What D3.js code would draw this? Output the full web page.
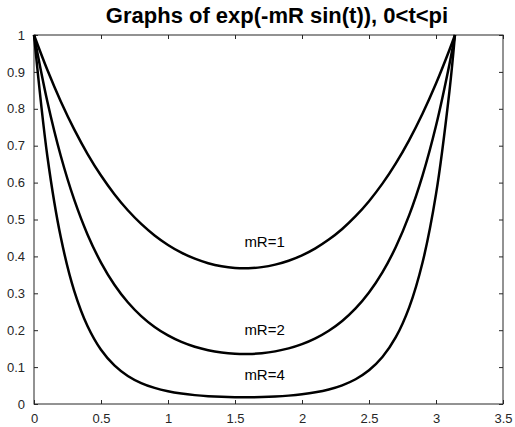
<!DOCTYPE html>
<html>
<head>
<meta charset="utf-8">
<script src="https://cdn.jsdelivr.net/npm/d3@7"></script>
<style>
  body { margin: 0; background: #fff; }
  svg { display: block; font-family: "Liberation Sans", Arial, sans-serif; }
</style>
</head>
<body>
<svg id="chart"></svg>
<script>
// sample points in t (0 .. pi)
const tValues = [0, 0.1, 0.2, 0.3, 0.4, 0.5, 0.6, 0.7, 0.8, 0.9, 1.0, 1.1, 1.2, 1.3, 1.4, 1.5,
  1.6, 1.7, 1.8, 1.9, 2.0, 2.1, 2.2, 2.3, 2.4, 2.5, 2.6, 2.7, 2.8, 2.9, 3.0, 3.1, 3.14159];

const mR1 = [1, 0.90499, 0.81982, 0.74414, 0.67745, 0.61913, 0.56856, 0.52507, 0.48804, 0.45688,
  0.43108, 0.41016, 0.39375, 0.38153, 0.37327, 0.36880, 0.36804, 0.37096, 0.37763, 0.38817,
  0.40281, 0.42181, 0.44553, 0.47440, 0.50892, 0.54965, 0.59720, 0.65222, 0.71535, 0.78722,
  0.86838, 0.95927, 1];
const mR2 = [1, 0.81903, 0.67207, 0.55374, 0.45894, 0.38332, 0.32326, 0.27570, 0.23818, 0.20874,
  0.18583, 0.16823, 0.15504, 0.14557, 0.13933, 0.13601, 0.13545, 0.13761, 0.14260, 0.15068,
  0.16226, 0.17792, 0.19850, 0.22506, 0.25900, 0.30212, 0.35665, 0.42539, 0.51173, 0.61972,
  0.75409, 0.92020, 1];
const mR4 = [1, 0.67081, 0.45168, 0.30663, 0.21063, 0.14693, 0.10450, 0.07601, 0.05673, 0.04357,
  0.03453, 0.02830, 0.02404, 0.02119, 0.01941, 0.01850, 0.01835, 0.01894, 0.02033, 0.02270,
  0.02633, 0.03166, 0.03940, 0.05065, 0.06708, 0.09128, 0.12720, 0.18096, 0.26187, 0.38405,
  0.56865, 0.84677, 1];

const labels = [
  { text: 'mR=1', t: 1.57, v: 0.44 },
  { text: 'mR=2', t: 1.57, v: 0.20 },
  { text: 'mR=4', t: 1.57, v: 0.078 }
];

const xTicks = [0, 0.5, 1, 1.5, 2, 2.5, 3, 3.5];
const yTicks = [0, 0.1, 0.2, 0.3, 0.4, 0.5, 0.6, 0.7, 0.8, 0.9, 1];

const width = 515, height = 427;
const margin = { top: 35, right: 12, bottom: 23, left: 34 };
const innerWidth = width - margin.left - margin.right;
const innerHeight = height - margin.top - margin.bottom;

const svg = d3.select('#chart')
  .attr('width', width)
  .attr('height', height);

const g = svg.append('g')
  .attr('transform', `translate(${margin.left},${margin.top})`);

const x = d3.scaleLinear().domain([0, 3.5]).range([0, innerWidth]);
const y = d3.scaleLinear().domain([0, 1]).range([innerHeight, 0]);

// axes box
g.append('rect')
  .attr('width', innerWidth)
  .attr('height', innerHeight)
  .attr('fill', 'none')
  .attr('stroke', '#262626')
  .attr('stroke-width', 1);

const tickLen = 4;

// bottom axis
g.append('g')
  .attr('transform', `translate(0,${innerHeight})`)
  .call(d3.axisBottom(x).tickValues(xTicks).tickSizeInner(-tickLen).tickSizeOuter(0).tickPadding(10)
    .tickFormat(d3.format('')))
  .attr('font-size', 13)
  .attr('font-family', '"Liberation Sans", Arial, sans-serif');
// top ticks
g.append('g')
  .attr('class', 'mirror')
  .call(d3.axisTop(x).tickValues(xTicks).tickSizeInner(-tickLen).tickSizeOuter(0));

// left axis
g.append('g')
  .call(d3.axisLeft(y).tickValues(yTicks).tickSizeInner(-tickLen).tickSizeOuter(0).tickPadding(9)
    .tickFormat(d3.format('')))
  .attr('font-size', 13)
  .attr('font-family', '"Liberation Sans", Arial, sans-serif');
// right ticks
g.append('g')
  .attr('class', 'mirror')
  .attr('transform', `translate(${innerWidth},0)`)
  .call(d3.axisRight(y).tickValues(yTicks).tickSizeInner(-tickLen).tickSizeOuter(0));

g.selectAll('.mirror .tick text').remove();
g.selectAll('.domain').remove();
g.selectAll('.tick line').attr('stroke', '#262626');
g.selectAll('.tick text').attr('fill', '#262626');

// curves
const line = d3.line()
  .x((d, i) => x(tValues[i]))
  .y(d => y(d))
  .curve(d3.curveCatmullRom);

[mR1, mR2, mR4].forEach(series => {
  g.append('path')
    .datum(series)
    .attr('fill', 'none')
    .attr('stroke', '#000')
    .attr('stroke-width', 2.5)
    .attr('stroke-linejoin', 'round')
    .attr('d', line);
});

// curve labels
g.selectAll('.curve-label')
  .data(labels)
  .enter()
  .append('text')
  .attr('class', 'curve-label')
  .attr('x', d => x(d.t))
  .attr('y', d => y(d.v))
  .attr('dy', '0.35em')
  .attr('font-size', 15)
  .attr('fill', '#000')
  .text(d => d.text);

// title
svg.append('text')
  .attr('x', 277)
  .attr('y', 23)
  .attr('text-anchor', 'middle')
  .attr('font-size', 22)
  .attr('font-weight', 'bold')
  .attr('fill', '#000')
  .text('Graphs of exp(-mR sin(t)), 0<t<pi');
</script>
</body>
</html>
